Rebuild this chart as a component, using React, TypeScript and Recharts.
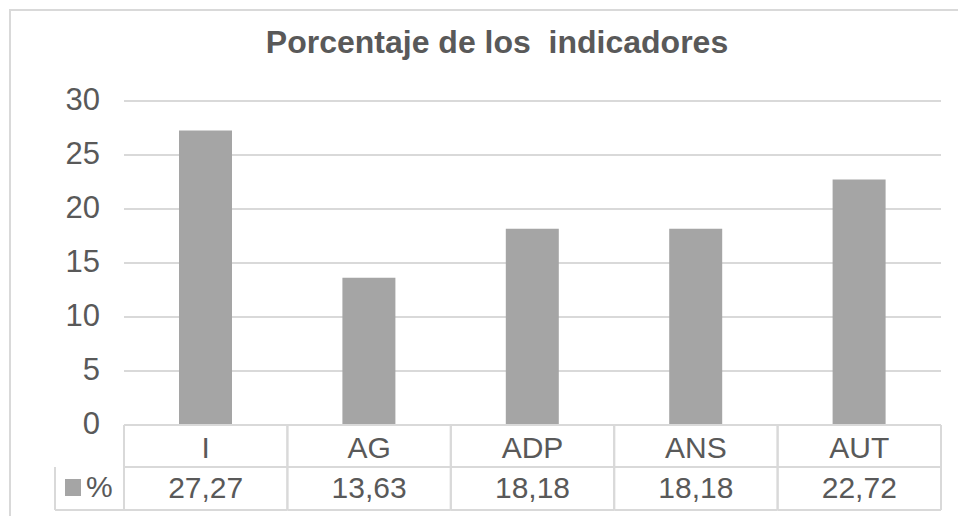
import { Bar, BarChart, CartesianGrid, XAxis, YAxis } from 'recharts';

const categories = ['I', 'AG', 'ADP', 'ANS', 'AUT'];
const percentValues = [27.27, 13.63, 18.18, 18.18, 22.72];
const yTicks = [0, 5, 10, 15, 20, 25, 30];
const seriesName = '%';
const chartTitle = 'Porcentaje de los  indicadores';

const data = categories.map((name, i) => ({ name, value: percentValues[i] }));

const FONT = '"Liberation Sans", Arial, sans-serif';
const TEXT = '#595959';
const LINE = '#d9d9d9';
const BAR = '#a5a5a5';

function formatValue(v: number): string {
  return v.toFixed(2).replace('.', ',');
}

// draws one column of the data table under the plot
function TableTick(props: any) {
  const { x, y, payload, index, width, visibleTicksCount } = props;
  const band = width / visibleTicksCount;
  const left = x - band / 2;
  const right = x + band / 2;
  const rowH = 42;
  const rowH2 = 43;
  const value = percentValues[index];
  return (
    <g>
      <line x1={left} y1={y} x2={right} y2={y} stroke={LINE} strokeWidth={2} />
      <line x1={left} y1={y + rowH} x2={right} y2={y + rowH} stroke={LINE} strokeWidth={2} />
      <line x1={left} y1={y + rowH + rowH2} x2={right} y2={y + rowH + rowH2} stroke={LINE} strokeWidth={2} />
      <line x1={left} y1={y} x2={left} y2={y + rowH + rowH2} stroke={LINE} strokeWidth={2} />
      <line x1={right} y1={y} x2={right} y2={y + rowH + rowH2} stroke={LINE} strokeWidth={2} />
      <text x={x} y={y + 33} textAnchor="middle" fill={TEXT} fontSize={30} fontFamily={FONT}>
        {payload.value}
      </text>
      <text x={x} y={y + 73} textAnchor="middle" fill={TEXT} fontSize={30} fontFamily={FONT}>
        {formatValue(value)}
      </text>
      {index === 0 && (
        <g>
          <line x1={left - 69} y1={y + rowH} x2={left - 69} y2={y + rowH + rowH2} stroke={LINE} strokeWidth={2} />
          <line x1={left - 69} y1={y + rowH + rowH2} x2={left} y2={y + rowH + rowH2} stroke={LINE} strokeWidth={2} />
          <rect x={left - 59} y={y + 54} width={16} height={17} fill={BAR} />
          <text x={left - 38} y={y + 72} fill={TEXT} fontSize={30} fontFamily={FONT}>
            {seriesName}
          </text>
        </g>
      )}
    </g>
  );
}

export default function App() {
  return (
    <div style={{ position: 'absolute', left: 0, top: 0, width: 958, height: 516, overflow: 'hidden', background: '#fff' }}>
      <div
        style={{
          position: 'absolute',
          left: 9,
          top: 9,
          width: 1000,
          height: 600,
          border: `2px solid ${LINE}`,
        }}
      />
      <div
        style={{
          position: 'absolute',
          left: 36,
          top: 26,
          width: 922,
          textAlign: 'center',
          fontFamily: FONT,
          fontWeight: 'bold',
          fontSize: 32,
          lineHeight: '32px',
          color: TEXT,
          whiteSpace: 'pre',
        }}
      >
        {chartTitle}
      </div>
      <div style={{ position: 'absolute', left: 0, top: 0 }}>
        <BarChart width={958} height={516} data={data} margin={{ top: 101, right: 17, bottom: 0, left: 0 }}>
          <CartesianGrid vertical={false} stroke={LINE} strokeWidth={2} />
          <YAxis
            width={124}
            domain={[0, 30]}
            ticks={yTicks}
            axisLine={false}
            tickLine={false}
            tickSize={0}
            tickMargin={24}
            tick={{ fill: TEXT, fontSize: 31, fontFamily: FONT, dy: -2 }}
          />
          <XAxis
            dataKey="name"
            height={91}
            axisLine={false}
            tickLine={false}
            tickSize={0}
            tickMargin={0}
            interval={0}
            tick={<TableTick />}
          />
          <Bar dataKey="value" fill={BAR} barSize={53} isAnimationActive={false} />
        </BarChart>
      </div>
    </div>
  );
}
